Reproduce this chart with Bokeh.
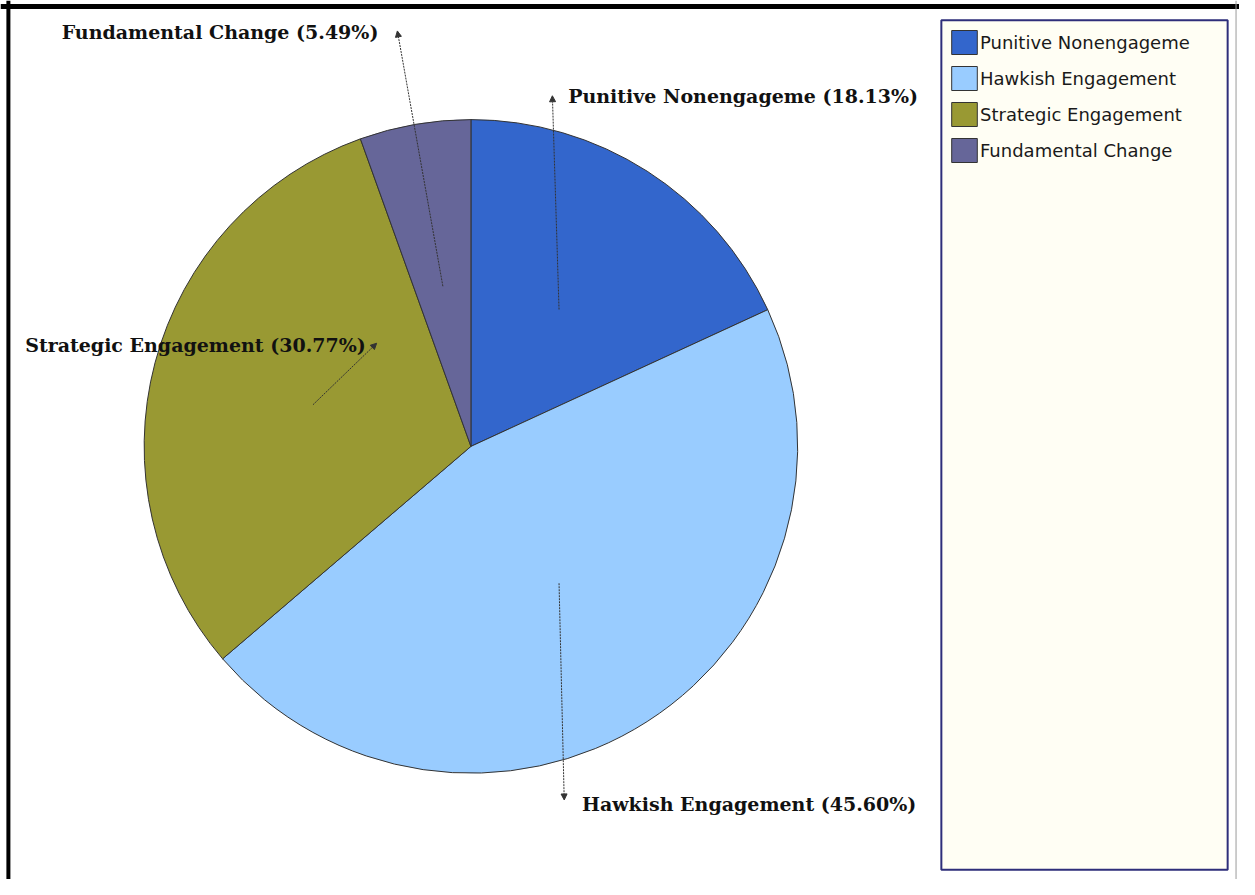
import math
from bokeh.plotting import figure
from bokeh.models import ColumnDataSource, Range1d, Arrow, NormalHead, Span, BoxAnnotation
from bokeh.core.properties import value
from bokeh.embed import file_html
from bokeh.resources import INLINE

# ---- data ----
categories = ["Punitive Nonengageme", "Hawkish Engagement", "Strategic Engagement", "Fundamental Change"]
shares = [18.13, 45.60, 30.77, 5.49]
colors = ["#3366CC", "#99CCFF", "#999933", "#666699"]

# ---- layout (reference pixel positions; y measured downwards) ----
W, H = 1239, 879
REF_W, REF_H = 1255, 895
CX, CY, R = 476.5, 454.0, 331.0
label_pos = [(575, 97), (589, 818), (25, 351), (62, 32)]     # text start, baseline
arrow_head = [(559, 97), (571, 814), (381, 349), (402, 31)]

total = sum(shares)
start, end, tail_x, tail_y = [], [], [], []
acc = 0.0
for s in shares:
    f0 = acc / total * 2 * math.pi
    acc += s
    f1 = acc / total * 2 * math.pi
    start.append(math.pi / 2 - f0)
    end.append(math.pi / 2 - f1)
    fm = (f0 + f1) / 2
    tail_x.append(CX + 0.5 * R * math.sin(fm))
    tail_y.append(-(CY - 0.5 * R * math.cos(fm)))

wedge_src = ColumnDataSource(dict(start=start, end=end, color=colors, label=categories))

p = figure(width=W, height=H, output_backend="svg", toolbar_location=None,
           x_axis_type=None, y_axis_type=None, min_border=0,
           x_range=Range1d(0, REF_W), y_range=Range1d(-REF_H, 0))
p.grid.visible = False
p.outline_line_color = None
p.background_fill_color = "white"
p.border_fill_color = "white"

# legend box background
p.add_layout(BoxAnnotation(left=953, right=1243, top=-20, bottom=-885,
                           fill_color="#FFFEF4", fill_alpha=1.0,
                           line_color="#2E2E7A", line_alpha=1.0, line_width=2, level="underlay"))

p.wedge(x=CX, y=-CY, radius=R, start_angle="start", end_angle="end", direction="clock",
        fill_color="color", line_color="#333333", line_width=1, source=wedge_src,
        legend_field="label")

# leader arrows
arr_src = ColumnDataSource(dict(x0=tail_x, y0=tail_y,
                                x1=[a[0] for a in arrow_head], y1=[-a[1] for a in arrow_head]))
p.add_layout(Arrow(x_start="x0", y_start="y0", x_end="x1", y_end="y1", source=arr_src,
                   line_color="#333333", line_width=1, line_dash="2 1",
                   end=NormalHead(size=6, fill_color="#333333", line_color="#333333")))

# pie labels
texts = [f"{c} ({s:.2f}%)" for c, s in zip(categories, shares)]
lab_src = ColumnDataSource(dict(x=[l[0] for l in label_pos], y=[-l[1] for l in label_pos], t=texts))
p.text(x="x", y="y", text="t", source=lab_src, text_font=value("DejaVu Serif"),
       text_font_style="bold", text_font_size="19px", text_color="#111111",
       text_baseline="alphabetic", text_align="left")

# outer frame
p.add_layout(Span(location=-6, dimension="width", line_color="black", line_width=5))
p.add_layout(Span(location=8, dimension="height", line_color="black", line_width=4))
p.add_layout(Span(location=1251.5, dimension="height", line_color="#9a9a9a", line_width=1))

lg = p.legend[0]
lg.location = (948, 714)
lg.padding = 0
lg.margin = 0
lg.spacing = 6
lg.glyph_width = 32
lg.glyph_height = 30
lg.label_standoff = 0
lg.border_line_alpha = 0
lg.background_fill_alpha = 0
lg.label_text_font = "DejaVu Sans"
lg.label_text_font_size = "18px"
lg.label_text_color = "#1a1a1a"

open("out.html", "w").write(file_html(p, INLINE))
